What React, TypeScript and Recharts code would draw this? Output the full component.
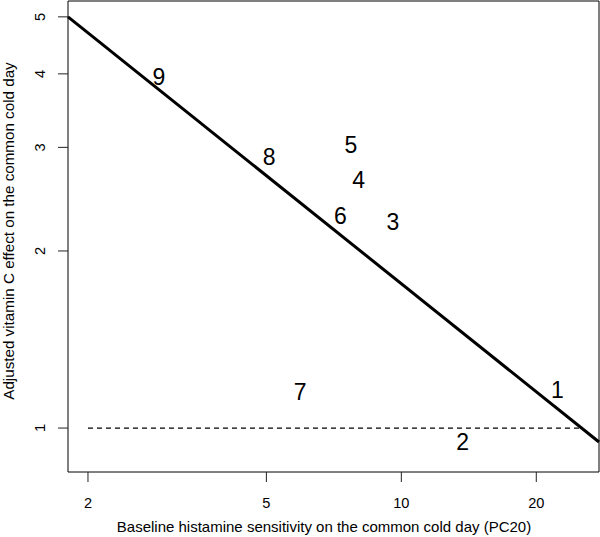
import React from "react"
import {
  ComposedChart,
  Scatter,
  XAxis,
  YAxis,
  ReferenceLine,
  ReferenceArea,
  Label,
} from "recharts"

const FONT = '"Liberation Sans", Arial, Helvetica, sans-serif'

// subject labels and their positions (PC20, adjusted effect)
const subjects = ["1", "2", "3", "4", "5", "6", "7", "8", "9"]
const pc20 = [22.3, 13.7, 9.58, 8.03, 7.72, 7.31, 5.95, 5.07, 2.88]
const effect = [1.16, 0.947, 2.24, 2.64, 3.03, 2.29, 1.15, 2.89, 3.95]

// fitted line (log-log) and reference line at effect = 1
const fitX = [1.805, 27.6]
const fitY = [5.0, 0.947]
const refX = [2, 25.2]
const refY = [1, 1]

const xTicks = [2, 5, 10, 20]
const yTicks = [1, 2, 3, 4, 5]
const xDomain = [1.805, 27.6]
const yDomain = [0.842, 5.32]

const points = subjects.map((s, i) => ({ x: pc20[i], y: effect[i], label: s }))

function NumberMark(props: any) {
  const { cx, cy, payload } = props
  return (
    <text x={cx} y={cy + 8} textAnchor="middle" fontSize={23} fontFamily={FONT} fill="#000">
      {payload.label}
    </text>
  )
}

function XTick(props: any) {
  const { x, y, payload } = props
  return (
    <text x={x} y={y + 26} textAnchor="middle" fontSize={14.6} fontFamily={FONT} fill="#000">
      {payload.value}
    </text>
  )
}

function YTick(props: any) {
  const { x, y, payload } = props
  const tx = x - 13
  return (
    <text
      x={tx}
      y={y}
      transform={`rotate(-90 ${tx} ${y})`}
      textAnchor="middle"
      fontSize={14.6}
      fontFamily={FONT}
      fill="#000"
    >
      {payload.value}
    </text>
  )
}

export default function App() {
  return (
    <div style={{ position: "absolute", left: 0, top: 0, background: "#fff" }}>
      <ComposedChart
        width={600}
        height={537}
        margin={{ top: 1, right: 1, bottom: 0, left: 0 }}
        style={{ fontFamily: FONT }}
      >
        <XAxis
          type="number"
          dataKey="x"
          scale="log"
          domain={xDomain}
          allowDataOverflow
          ticks={xTicks}
          tick={<XTick />}
          tickSize={10}
          tickMargin={0}
          tickLine={{ stroke: "#222" }}
          axisLine={false}
          height={65}
        >
          <Label
            content={() => (
              <text x={324} y={532} textAnchor="middle" fontSize={15} fontFamily={FONT} fill="#000">
                Baseline histamine sensitivity on the common cold day (PC20)
              </text>
            )}
          />
        </XAxis>
        <YAxis
          type="number"
          dataKey="y"
          scale="log"
          domain={yDomain}
          allowDataOverflow
          ticks={yTicks}
          tick={<YTick />}
          tickSize={10}
          tickMargin={0}
          tickLine={{ stroke: "#222" }}
          axisLine={false}
          width={68}
        >
          <Label
            content={() => (
              <text
                x={14}
                y={231}
                transform="rotate(-90 14 231)"
                textAnchor="middle"
                fontSize={15.2}
                fontFamily={FONT}
                fill="#000"
              >
                Adjusted vitamin C effect on the common cold day
              </text>
            )}
          />
        </YAxis>
        <ReferenceArea
          x1={xDomain[0]}
          x2={xDomain[1]}
          y1={yDomain[0]}
          y2={yDomain[1]}
          fill="none"
          fillOpacity={0}
          stroke="#000"
          strokeWidth={1}
          ifOverflow="visible"
        />
        <ReferenceLine
          segment={[
            { x: refX[0], y: refY[0] },
            { x: refX[1], y: refY[1] },
          ]}
          stroke="#000"
          strokeWidth={1.2}
          strokeDasharray="5 4"
          ifOverflow="visible"
        />
        <ReferenceLine
          segment={[
            { x: fitX[0], y: fitY[0] },
            { x: fitX[1], y: fitY[1] },
          ]}
          stroke="#000"
          strokeWidth={3}
          ifOverflow="visible"
        />
        <Scatter data={points} shape={<NumberMark />} isAnimationActive={false} />
      </ComposedChart>
    </div>
  )
}
